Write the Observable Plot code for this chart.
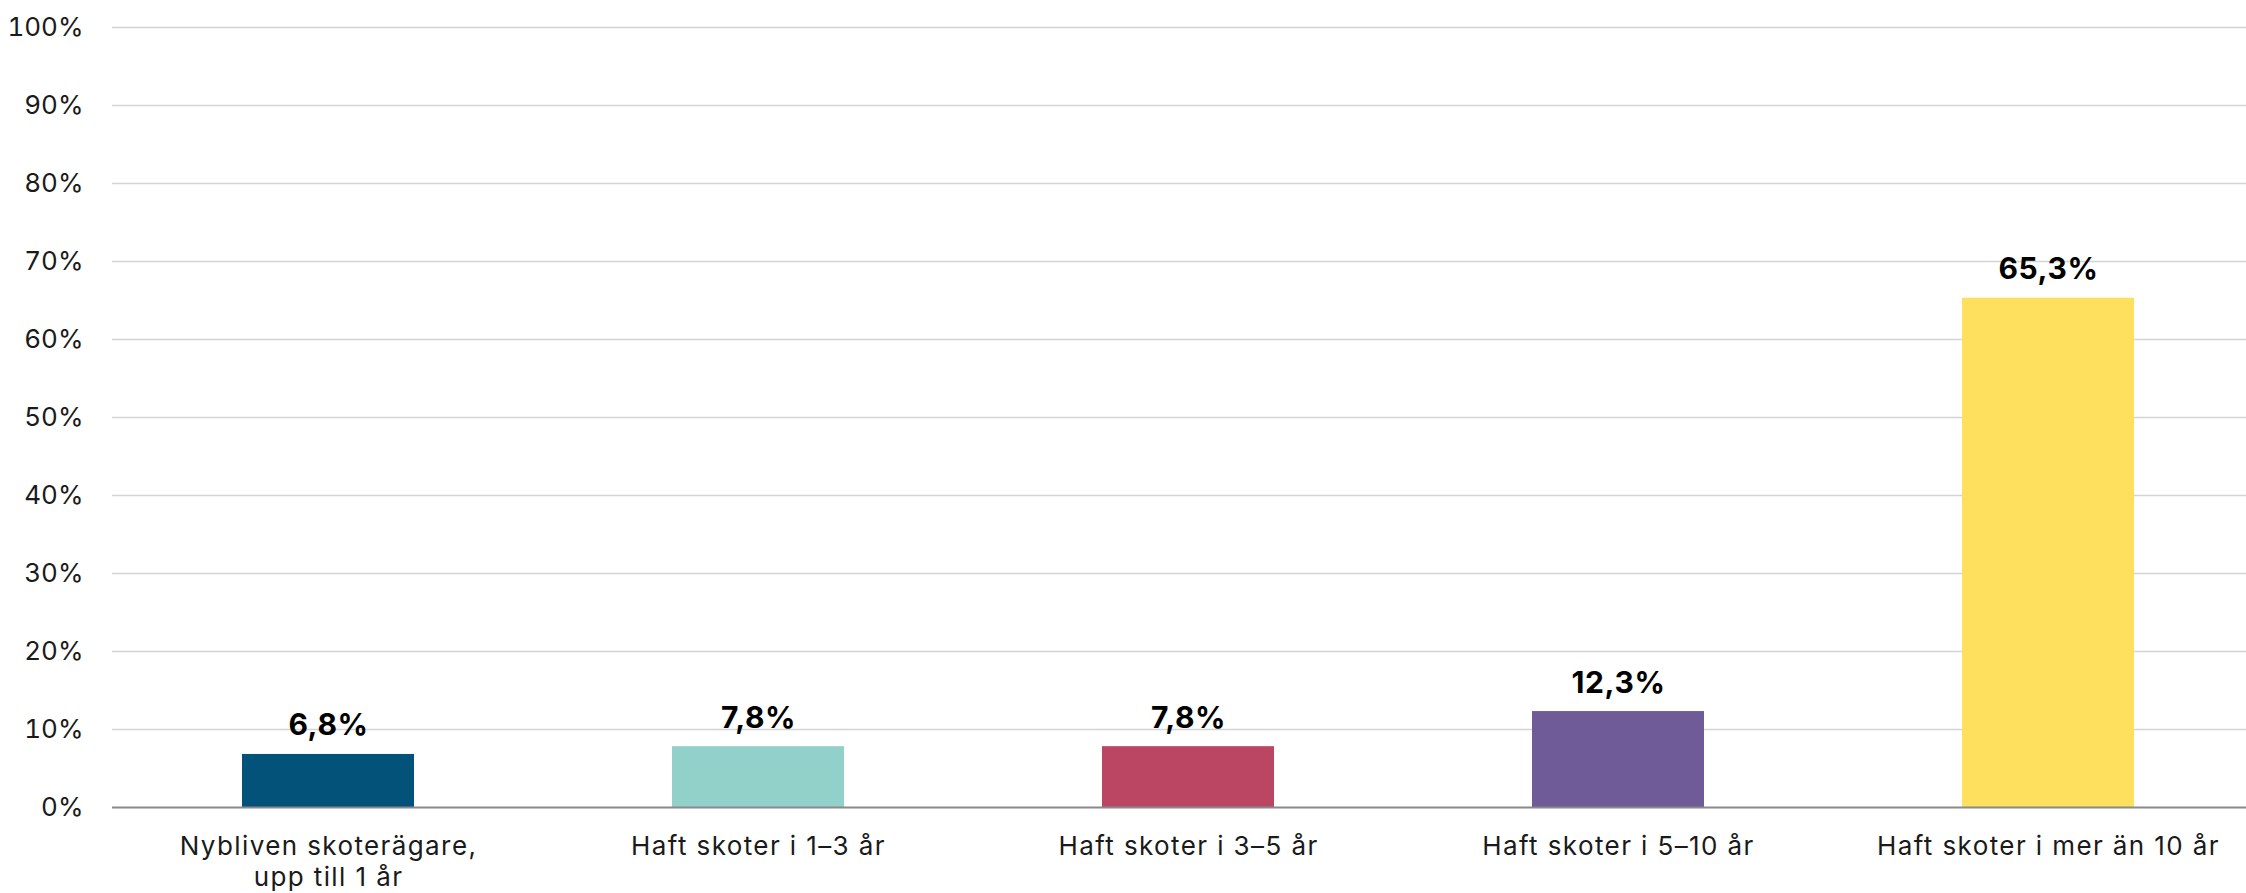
<!DOCTYPE html>
<html><head><meta charset="utf-8">
<script src="https://cdn.jsdelivr.net/npm/d3@7"></script>
<script src="https://cdn.jsdelivr.net/npm/@observablehq/plot@0.6"></script>
<style>
body{margin:0;background:#fff}
g[aria-label="x-axis tick label"] text{letter-spacing:1.4px}
g[aria-label="text"] text{letter-spacing:0.6px}
</style>
</head><body><div id="chart"></div>
<script>
const categories = ["Nybliven skoterägare,\nupp till 1 år", "Haft skoter i 1–3 år", "Haft skoter i 3–5 år", "Haft skoter i 5–10 år", "Haft skoter i mer än 10 år"];
const values = [6.8, 7.8, 7.8, 12.3, 65.3];
const colors = ["#03527A", "#92D1C9", "#BB4664", "#6E5B97", "#FEDF5E"];
const yTicks = [0, 10, 20, 30, 40, 50, 60, 70, 80, 90, 100];

const data = categories.map((c, i) => ({category: c, value: values[i]}));
const fmt = v => v.toFixed(1).replace(".", ",") + "%";

const chart = Plot.plot({
  width: 2246, height: 893,
  marginTop: 27, marginBottom: 86, marginLeft: 112, marginRight: 0,
  style: {fontFamily: "Inter, sans-serif", fontSize: "26px", color: "#1a1a1a", background: "#fff"},
  x: {domain: categories, range: [112, 2264.5], paddingInner: 0.6, paddingOuter: 0.3, align: 0.5},
  y: {domain: [0, 100]},
  color: {domain: categories, range: colors},
  marks: [
    Plot.ruleY(yTicks.filter(t => t > 0), {stroke: "#d4d4d4", strokeWidth: 1.5}),
    Plot.barY(data, {x: "category", y: "value", fill: "category"}),
    Plot.ruleY([0], {stroke: "#8a8a8a", strokeWidth: 2}),
    Plot.text(data, {x: "category", y: "value", text: d => fmt(d.value), dy: -19, lineAnchor: "bottom", fontWeight: 700, fontSize: 30, fill: "#000"}),
    Plot.axisY({ticks: yTicks, tickSize: 0, tickPadding: 29, tickFormat: d => d + "%", fontSize: 26, label: null}),
    Plot.axisX({tickSize: 0, tickPadding: 25, lineHeight: 1.2, fontSize: 26, label: null})
  ]
});
document.getElementById("chart").appendChild(chart);
</script>
</body></html>
